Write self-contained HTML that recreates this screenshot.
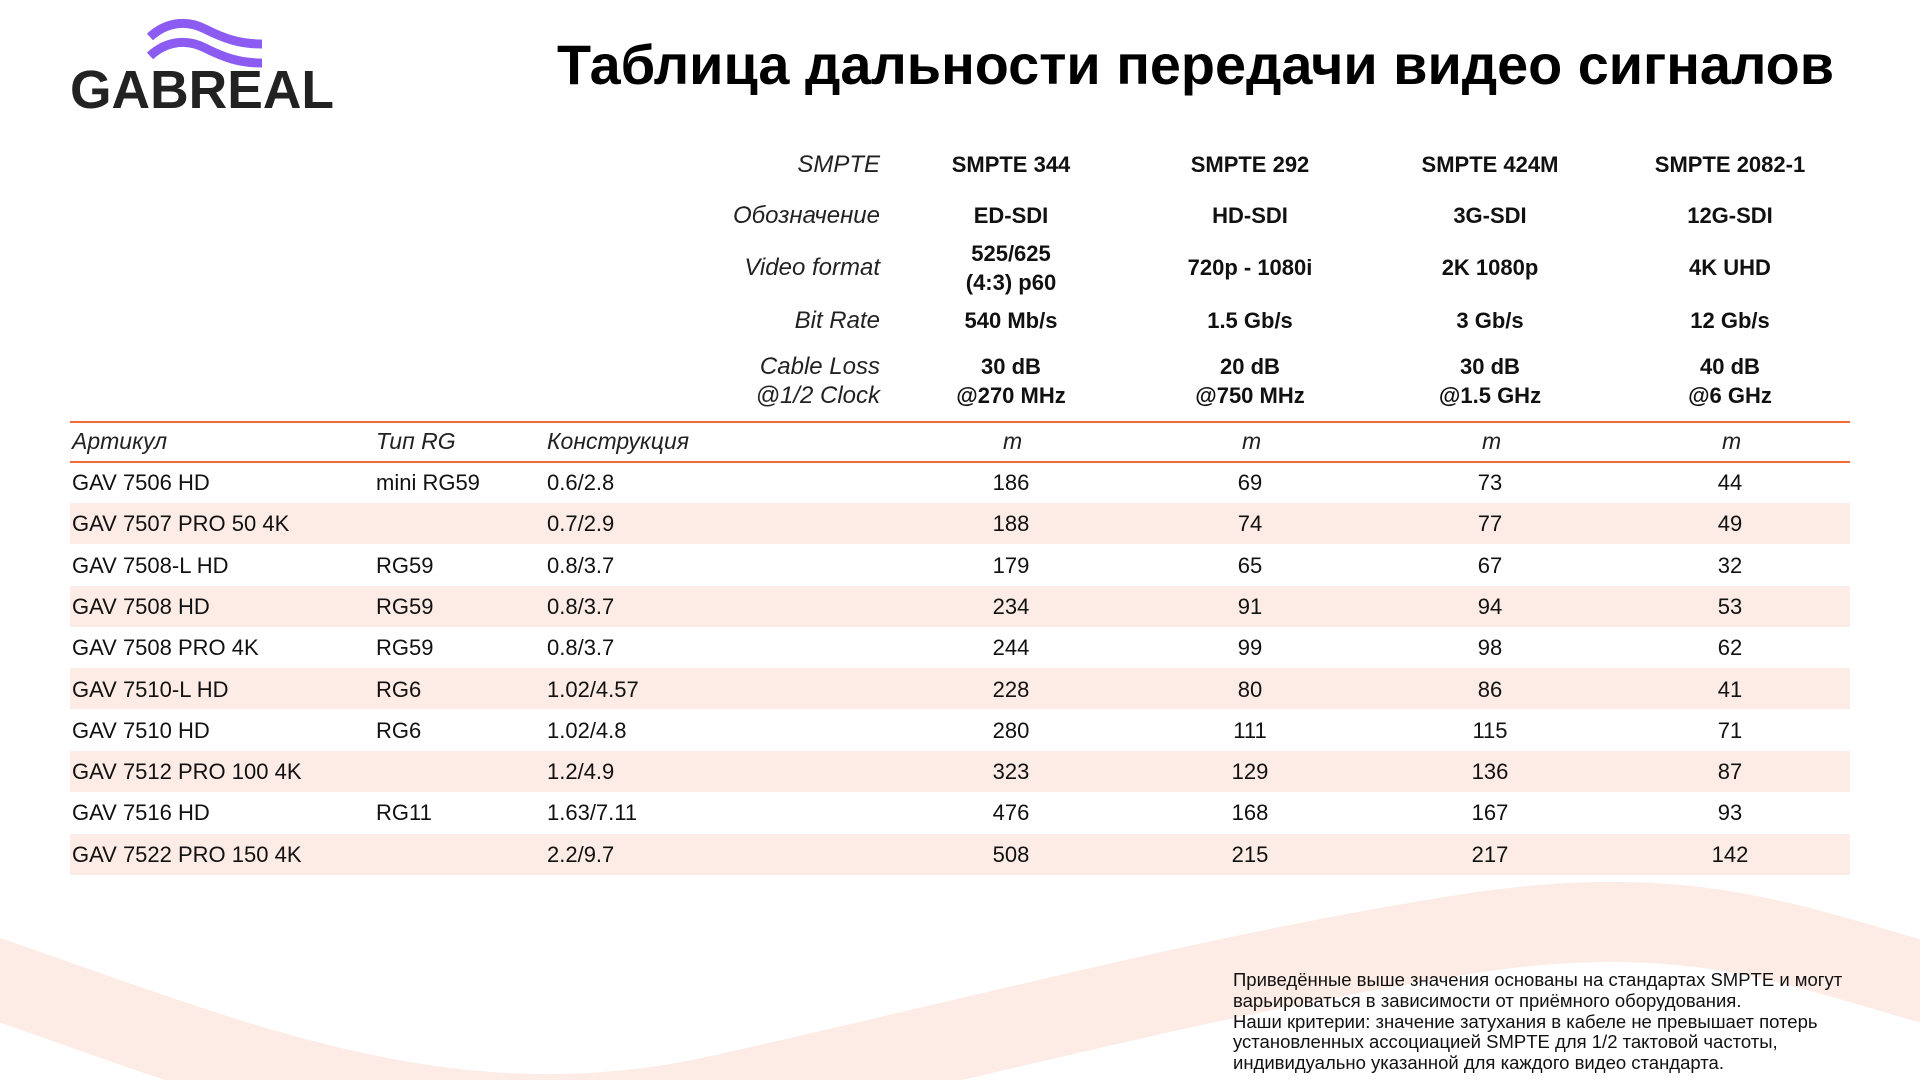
<!DOCTYPE html>
<html><head><meta charset="utf-8"><style>
*{margin:0;padding:0;box-sizing:border-box}
body{width:1920px;height:1080px;position:relative;overflow:hidden;background:#fff;font-family:"Liberation Sans",sans-serif;color:#111}
.a{position:absolute;white-space:nowrap}
.lab{position:absolute;right:1040px;font-style:italic;font-size:24px;line-height:29px;text-align:right;color:#222}
.v{position:absolute;width:220px;text-align:center;font-weight:bold;font-size:22px;line-height:29px;color:#111}
.band{position:absolute;left:70px;width:1780px;height:41px;background:#fcece5}
.r{position:absolute;font-size:22px;line-height:41px;height:41px}
.c{position:absolute;width:200px;text-align:center;font-size:22px;line-height:41px}
.hl{position:absolute;left:70px;width:1780px;height:2px;background:#f26a3a}
.hi{position:absolute;font-style:italic;font-size:23px;line-height:40px;top:421px;color:#222}
</style></head><body>
<svg class="a" style="left:0;top:0" width="1920" height="1080">
<path d="M-60,960 C 200,1045 430,1160 720,1095 S 1210,975 1460,935 S 1810,955 1990,1000" fill="none" stroke="#fcece5" stroke-width="80"/>
<path d="M150,37 C165,23 185,19 205,29 S240,44 262,44" fill="none" stroke="#8c5cf2" stroke-width="9"/>
<path d="M150,56 C165,42 185,38 205,48 S240,63 262,63" fill="none" stroke="#8c5cf2" stroke-width="9"/>
<text x="70" y="108" font-family="Liberation Sans" font-weight="bold" font-size="54" fill="#222" textLength="264" lengthAdjust="spacingAndGlyphs">GABREAL</text>
<text x="557" y="84" font-family="Liberation Sans" font-weight="bold" font-size="56" fill="#000" textLength="1277" lengthAdjust="spacingAndGlyphs">Таблица дальности передачи видео сигналов</text>
</svg>

<div class="lab" style="top:150px">SMPTE</div>
<div class="lab" style="top:201px">Обозначение</div>
<div class="lab" style="top:253px">Video format</div>
<div class="lab" style="top:306px">Bit Rate</div>
<div class="lab" style="top:352px">Cable Loss<br>@1/2 Clock</div>

<div class="v" style="left:901px;top:150px">SMPTE 344</div>
<div class="v" style="left:1140px;top:150px">SMPTE 292</div>
<div class="v" style="left:1380px;top:150px">SMPTE 424M</div>
<div class="v" style="left:1620px;top:150px">SMPTE 2082-1</div>
<div class="v" style="left:901px;top:201px">ED-SDI</div>
<div class="v" style="left:1140px;top:201px">HD-SDI</div>
<div class="v" style="left:1380px;top:201px">3G-SDI</div>
<div class="v" style="left:1620px;top:201px">12G-SDI</div>
<div class="v" style="left:901px;top:239px">525/625<br>(4:3) p60</div>
<div class="v" style="left:1140px;top:253px">720p - 1080i</div>
<div class="v" style="left:1380px;top:253px">2K 1080p</div>
<div class="v" style="left:1620px;top:253px">4K UHD</div>
<div class="v" style="left:901px;top:306px">540 Mb/s</div>
<div class="v" style="left:1140px;top:306px">1.5 Gb/s</div>
<div class="v" style="left:1380px;top:306px">3 Gb/s</div>
<div class="v" style="left:1620px;top:306px">12 Gb/s</div>
<div class="v" style="left:901px;top:352px">30 dB<br>@270 MHz</div>
<div class="v" style="left:1140px;top:352px">20 dB<br>@750 MHz</div>
<div class="v" style="left:1380px;top:352px">30 dB<br>@1.5 GHz</div>
<div class="v" style="left:1620px;top:352px">40 dB<br>@6 GHz</div>

<div class="hl" style="top:421px"></div>
<div class="hl" style="top:461px"></div>
<div class="hi" style="left:72px">Артикул</div>
<div class="hi" style="left:376px">Тип RG</div>
<div class="hi" style="left:547px">Конструкция</div>
<div class="hi" style="left:1003px">m</div>
<div class="hi" style="left:1242px">m</div>
<div class="hi" style="left:1482px">m</div>
<div class="hi" style="left:1722px">m</div>

<div class="band" style="top:503px"></div>
<div class="band" style="top:586px"></div>
<div class="band" style="top:668px"></div>
<div class="band" style="top:751px"></div>
<div class="band" style="top:834px"></div>

<div id="rows"></div>
<script>
var d=[["GAV 7506 HD","mini RG59","0.6/2.8",186,69,73,44],
["GAV 7507 PRO 50 4K","","0.7/2.9",188,74,77,49],
["GAV 7508-L HD","RG59","0.8/3.7",179,65,67,32],
["GAV 7508 HD","RG59","0.8/3.7",234,91,94,53],
["GAV 7508 PRO 4K","RG59","0.8/3.7",244,99,98,62],
["GAV 7510-L HD","RG6","1.02/4.57",228,80,86,41],
["GAV 7510 HD","RG6","1.02/4.8",280,111,115,71],
["GAV 7512 PRO 100 4K","","1.2/4.9",323,129,136,87],
["GAV 7516 HD","RG11","1.63/7.11",476,168,167,93],
["GAV 7522 PRO 150 4K","","2.2/9.7",508,215,217,142]];
var h="",cx=[1011,1250,1490,1730];
d.forEach(function(r,i){var t=462+i*41.3;
h+='<div class="r" style="left:72px;top:'+t+'px">'+r[0]+'</div>';
h+='<div class="r" style="left:376px;top:'+t+'px">'+r[1]+'</div>';
h+='<div class="r" style="left:547px;top:'+t+'px">'+r[2]+'</div>';
for(var k=0;k<4;k++)h+='<div class="c" style="left:'+(cx[k]-100)+'px;top:'+t+'px">'+r[3+k]+'</div>';});
document.getElementById('rows').innerHTML=h;
</script>

<div class="a" style="left:1233px;top:970px;font-size:18.5px;line-height:20.8px;color:#111">Приведённые выше значения основаны на стандартах SMPTE и могут<br>варьироваться в зависимости от приёмного оборудования.<br>Наши критерии: значение затухания в кабеле не превышает потерь<br>установленных ассоциацией SMPTE для 1/2 тактовой частоты,<br>индивидуально указанной для каждого видео стандарта.</div>
</body></html>
